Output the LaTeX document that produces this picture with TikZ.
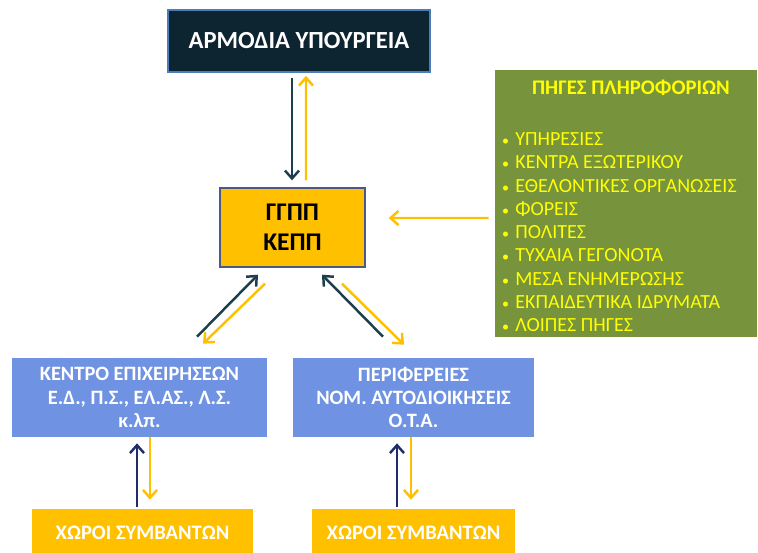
\documentclass[tikz,border=0pt]{standalone}
\usepackage{fontspec}
\setmainfont{Carlito}
\usepackage{xcolor}
\usepackage{tikz}
\usetikzlibrary{arrows.meta,positioning,calc}

\definecolor{navybox}{HTML}{0D2431}
\definecolor{navyline}{HTML}{4A7EBB}
\definecolor{goldbox}{HTML}{FFC000}
\definecolor{olivebox}{HTML}{77933C}
\definecolor{bluebox}{HTML}{6F93E2}
\definecolor{darkarrow}{HTML}{1C3E4E}
\definecolor{navyarrow}{HTML}{1F2E6A}
\definecolor{srctext}{HTML}{FFFF00}

\begin{document}
\begin{tikzpicture}[x=0.02cm, y=-0.02cm, font=\bfseries,
    topbox/.style={draw=navyline, line width=1pt, fill=navybox, text=white, font=\bfseries\fontsize{14}{16}\selectfont},
    centerbox/.style={draw=navyarrow!80, line width=0.8pt, fill=goldbox, text=black, align=center, font=\bfseries\fontsize{14.5}{17}\selectfont},
    regionbox/.style={fill=bluebox, text=white, align=center, font=\bfseries\fontsize{11.6}{13.2}\selectfont},
    sitebox/.style={fill=goldbox, text=white, font=\bfseries\fontsize{11.7}{13}\selectfont},
    srcitem/.style={anchor=west, text=srctext, font=\fontsize{11.4}{13}\selectfont},
    darkarr/.style={draw=darkarrow, line width=1.4pt, -{Straight Barb[length=4.5pt,width=8pt]}},
    navyarr/.style={draw=navyarrow, line width=1.4pt, -{Straight Barb[length=4.5pt,width=8pt]}},
    goldarr/.style={draw=goldbox, line width=1.4pt, -{Straight Barb[length=4.5pt,width=8pt]}}]
    \useasboundingbox[fill=white] (0,0) rectangle (758,552);

    % Top and centre
    \node[topbox, minimum width=5.24cm, minimum height=1.24cm] (minis) at (299,41) {ΑΡΜΟΔΙΑ ΥΠΟΥΡΓΕΙΑ};
    \node[centerbox, minimum width=2.9cm, minimum height=1.58cm] (ggpp) at (292.5,227.5) {ΓΓΠΠ\\ΚΕΠΠ};

    % Information sources
    \node[fill=olivebox, minimum width=5.24cm, minimum height=5.34cm] (pig) at (626,203.5) {};
    \node[text=srctext, font=\bfseries\fontsize{11.8}{13}\selectfont] (pigtitle) at (631,88) {ΠΗΓΕΣ ΠΛΗΡΟΦΟΡΙΩΝ};
    \foreach \t [count=\i] in {ΥΠΗΡΕΣΙΕΣ, ΚΕΝΤΡΑ ΕΞΩΤΕΡΙΚΟΥ, ΕΘΕΛΟΝΤΙΚΕΣ ΟΡΓΑΝΩΣΕΙΣ, ΦΟΡΕΙΣ, ΠΟΛΙΤΕΣ, ΤΥΧΑΙΑ ΓΕΓΟΝΟΤΑ, ΜΕΣΑ ΕΝΗΜΕΡΩΣΗΣ, ΕΚΠΑΙΔΕΥΤΙΚΑ ΙΔΡΥΜΑΤΑ, ΛΟΙΠΕΣ ΠΗΓΕΣ} {
        \node[srcitem] (src\i) at (496,115.7+23.3*\i) {{\fontsize{8}{8}\selectfont\textbullet}\hspace{3.5pt}\t};
    }

    % Regional level
    \node[regionbox, minimum width=5.1cm, minimum height=1.58cm] (kentro) at (139.5,397.5) {ΚΕΝΤΡΟ ΕΠΙΧΕΙΡΗΣΕΩΝ\\Ε.Δ., Π.Σ., ΕΛ.ΑΣ., Λ.Σ.\\κ.λπ.};
    \node[regionbox, minimum width=4.82cm, minimum height=1.58cm] (perif) at (413.5,397.5) {ΠΕΡΙΦΕΡΕΙΕΣ\\ΝΟΜ. ΑΥΤΟΔΙΟΙΚΗΣΕΙΣ\\Ο.Τ.Α.};

    % Incident sites
    \node[sitebox, minimum width=4.42cm, minimum height=0.96cm] (xoroia) at (142.5,533) {ΧΩΡΟΙ ΣΥΜΒΑΝΤΩΝ};
    \node[sitebox, minimum width=4.06cm, minimum height=0.96cm] (xoroib) at (413.5,533) {ΧΩΡΟΙ ΣΥΜΒΑΝΤΩΝ};

    % Arrows
    \draw[darkarr] ($(minis.south)+(-7,5)$) -- ($(ggpp.north)+(-0.5,-7)$);
    \draw[goldarr] ($(ggpp.north)+(13.5,-7)$) -- ($(minis.south)+(7,3)$);
    \draw[goldarr] ($(pig.west)+(-6,14.5)$) -- ($(ggpp.east)+(23,-9.5)$);

    \draw[darkarr] ($(kentro.north)+(57.5,-21)$) -- ($(ggpp.south)+(-34.5,7)$);
    \draw[goldarr] ($(ggpp.south)+(-27.5,16)$) -- ($(kentro.north)+(63.5,-14)$);
    \draw[darkarr] ($(perif.north)+(-30.5,-21)$) -- ($(ggpp.south)+(29.5,7)$);
    \draw[goldarr] ($(ggpp.south)+(49.5,16)$) -- ($(perif.north)+(-9.5,-13)$);

    \draw[navyarr] ($(xoroia.north)+(-5.5,-2)$) -- ($(kentro.south)+(-2.5,6)$);
    \draw[goldarr] ($(kentro.south)+(10.5,0)$) -- ($(xoroia.north)+(7.5,-9)$);
    \draw[navyarr] ($(xoroib.north)+(-16.5,-2)$) -- ($(perif.south)+(-16.5,6)$);
    \draw[goldarr] ($(perif.south)+(-2.5,0)$) -- ($(xoroib.north)+(-2.5,-9)$);
\end{tikzpicture}
\end{document}
